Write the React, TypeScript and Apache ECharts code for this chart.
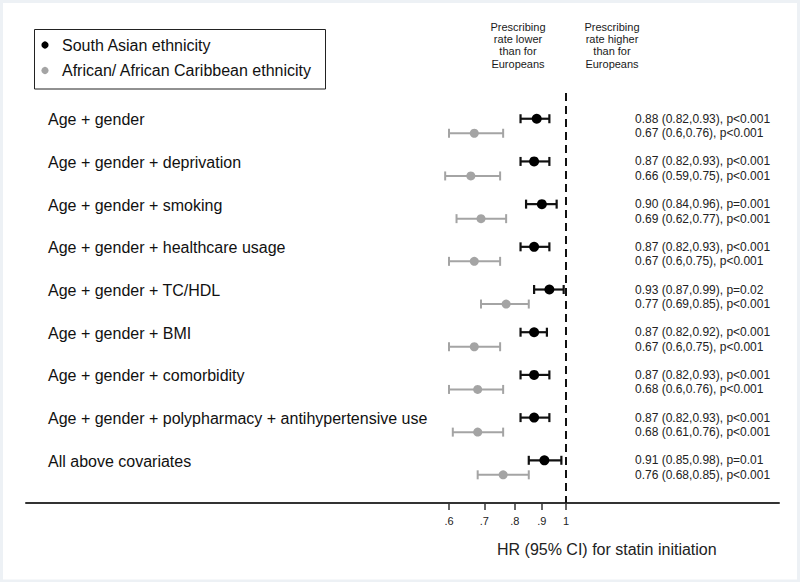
import React, { useEffect, useRef } from 'react';
import * as echarts from 'echarts';

const models = [
  'Age + gender',
  'Age + gender + deprivation',
  'Age + gender + smoking',
  'Age + gender + healthcare usage',
  'Age + gender + TC/HDL',
  'Age + gender + BMI',
  'Age + gender + comorbidity',
  'Age + gender + polypharmacy + antihypertensive use',
  'All above covariates',
];

const saHR = [0.88, 0.87, 0.9, 0.87, 0.93, 0.87, 0.87, 0.87, 0.91];
const saLo = [0.82, 0.82, 0.84, 0.82, 0.87, 0.82, 0.82, 0.82, 0.85];
const saHi = [0.93, 0.93, 0.96, 0.93, 0.99, 0.92, 0.93, 0.93, 0.98];
const saText = [
  '0.88 (0.82,0.93), p<0.001',
  '0.87 (0.82,0.93), p<0.001',
  '0.90 (0.84,0.96), p=0.001',
  '0.87 (0.82,0.93), p<0.001',
  '0.93 (0.87,0.99), p=0.02',
  '0.87 (0.82,0.92), p<0.001',
  '0.87 (0.82,0.93), p<0.001',
  '0.87 (0.82,0.93), p<0.001',
  '0.91 (0.85,0.98), p=0.01',
];

const afHR = [0.67, 0.66, 0.69, 0.67, 0.77, 0.67, 0.68, 0.68, 0.76];
const afLo = [0.6, 0.59, 0.62, 0.6, 0.69, 0.6, 0.6, 0.61, 0.68];
const afHi = [0.76, 0.75, 0.77, 0.75, 0.85, 0.75, 0.76, 0.76, 0.85];
const afText = [
  '0.67 (0.6,0.76), p<0.001',
  '0.66 (0.59,0.75), p<0.001',
  '0.69 (0.62,0.77), p<0.001',
  '0.67 (0.6,0.75), p<0.001',
  '0.77 (0.69,0.85), p<0.001',
  '0.67 (0.6,0.75), p<0.001',
  '0.68 (0.6,0.76), p<0.001',
  '0.68 (0.61,0.76), p<0.001',
  '0.76 (0.68,0.85), p<0.001',
];

const seriesNames = ['South Asian ethnicity', 'African/ African Caribbean ethnicity'];
const tickValues = [0.6, 0.7, 0.8, 0.9, 1];
const tickLabels = ['.6', '.7', '.8', '.9', '1'];
const headerLower = ['Prescribing', 'rate lower', 'than for', 'Europeans'];
const headerHigher = ['Prescribing', 'rate higher', 'than for', 'Europeans'];
const axisTitle = 'HR (95% CI) for statin initiation';

const FONT = '"Liberation Sans", Arial, Helvetica, sans-serif';
const BLACK = '#000000';
const GREY = '#a4a4a4';
const GREY_OFFSET = 0.34;

export default function App() {
  const ref = useRef<HTMLDivElement>(null);

  useEffect(() => {
    if (!ref.current) return;
    const chart = echarts.init(ref.current, null, { renderer: 'svg' });

    const saBars = models.map((_, i) => [saLo[i], saHi[i], i]);
    const afBars = models.map((_, i) => [afLo[i], afHi[i], i + GREY_OFFSET]);
    const saPts = models.map((_, i) => [saHR[i], i]);
    const afPts = models.map((_, i) => [afHR[i], i + GREY_OFFSET]);

    const makeBar = (color: string, width: number) => (params: any, api: any) => {
      const y = api.value(2);
      const a = api.coord([api.value(0), y]);
      const b = api.coord([api.value(1), y]);
      const h = 4.5;
      const st = { stroke: color, lineWidth: width };
      return {
        type: 'group',
        children: [
          { type: 'line', shape: { x1: a[0], y1: a[1], x2: b[0], y2: b[1] }, style: st },
          { type: 'line', shape: { x1: a[0], y1: a[1] - h, x2: a[0], y2: a[1] + h }, style: st },
          { type: 'line', shape: { x1: b[0], y1: b[1] - h, x2: b[0], y2: b[1] + h }, style: st },
        ],
      };
    };

    const option: any = {
      animation: false,
      backgroundColor: '#ffffff',
      textStyle: { fontFamily: FONT },
      grid: {
        left: 26,
        right: 21,
        top: 12,
        bottom: 79,
        containLabel: false,
        outerBoundsMode: 'none',
      },
      xAxis: {
        type: 'log',
        logBase: 10,
        min: 0.0946,
        max: 2.535,
        position: 'bottom',
        axisLine: { show: true, onZero: false, lineStyle: { color: '#333333', width: 2 } },
        axisTick: {
          show: true,
          customValues: tickValues,
          length: 7,
          lineStyle: { color: '#333333', width: 1.5 },
        },
        axisLabel: {
          show: true,
          customValues: tickValues,
          formatter: (v: number) => {
            const k = tickValues.findIndex((t) => Math.abs(t - v) < 1e-6);
            return k >= 0 ? tickLabels[k] : '';
          },
          fontSize: 11,
          color: '#222222',
          margin: 12,
          fontFamily: FONT,
        },
        splitLine: { show: false },
        minorTick: { show: false },
      },
      yAxis: {
        type: 'value',
        inverse: true,
        min: -2.5,
        max: 9,
        show: false,
        splitLine: { show: false },
      },
      series: [
        {
          type: 'custom',
          name: 'saBars',
          renderItem: makeBar('#111111', 2.2),
          data: saBars,
          encode: { x: [0, 1], y: 2 },
          z: 2,
          silent: true,
        },
        {
          type: 'custom',
          name: 'afBars',
          renderItem: makeBar(GREY, 2),
          data: afBars,
          encode: { x: [0, 1], y: 2 },
          z: 2,
          silent: true,
        },
        {
          type: 'scatter',
          name: seriesNames[0],
          data: saPts,
          symbol: 'circle',
          symbolSize: 10,
          itemStyle: { color: BLACK, opacity: 1 },
          z: 4,
          markLine: {
            silent: true,
            symbol: 'none',
            label: { show: false },
            lineStyle: { color: '#111111', width: 2, type: [8, 5] },
            data: [[{ coord: [1, -0.6] }, { coord: [1, 9] }]],
          },
        },
        {
          type: 'scatter',
          name: seriesNames[1],
          data: afPts,
          symbol: 'circle',
          symbolSize: 9,
          itemStyle: { color: GREY, opacity: 1 },
          z: 4,
        },
      ],
    };

    chart.setOption(option);

    const graphics: any[] = [];
    // outer light frame
    graphics.push({
      type: 'rect',
      shape: { x: 1.5, y: 1.5, width: 797, height: 579.5 },
      style: { fill: 'none', stroke: '#edf1f5', lineWidth: 3 },
      z: 100,
      silent: true,
    });
    // legend box
    graphics.push({
      type: 'rect',
      shape: { x: 34.5, y: 29.5, width: 291, height: 59.5 },
      style: { fill: '#ffffff', stroke: '#222222', lineWidth: 1 },
      z: 10,
    });
    const legendY = [45, 70.5];
    const legendColors = [BLACK, GREY];
    seriesNames.forEach((n, k) => {
      graphics.push({
        type: 'circle',
        shape: { cx: 45, cy: legendY[k], r: 3.6 },
        style: { fill: legendColors[k] },
        z: 11,
      });
      graphics.push({
        type: 'text',
        x: 62,
        y: legendY[k],
        style: {
          text: n,
          fontSize: 16,
          fontFamily: FONT,
          fill: '#111111',
          verticalAlign: 'middle',
          align: 'left',
        },
        z: 11,
      });
    });
    // header annotations, one text per line
    [
      { lines: headerLower, x: 518 },
      { lines: headerHigher, x: 612 },
    ].forEach((h) => {
      h.lines.forEach((ln, j) => {
        graphics.push({
          type: 'text',
          x: h.x,
          y: 26.5 + j * 12.4,
          style: {
            text: ln,
            fontSize: 11,
            fontFamily: FONT,
            fill: '#1a1a1a',
            align: 'center',
            verticalAlign: 'middle',
          },
          z: 11,
        });
      });
    });
    // row labels and estimate labels
    models.forEach((m, i) => {
      const pSa = chart.convertToPixel({ gridIndex: 0 }, [1, i]) as number[];
      const pAf = chart.convertToPixel({ gridIndex: 0 }, [1, i + GREY_OFFSET]) as number[];
      graphics.push({
        type: 'text',
        x: 48,
        y: pSa[1] + 1,
        style: {
          text: m,
          fontSize: 16,
          fontFamily: FONT,
          fill: '#111111',
          verticalAlign: 'middle',
          align: 'left',
        },
        z: 11,
      });
      graphics.push({
        type: 'text',
        x: 635,
        y: pSa[1],
        style: {
          text: saText[i],
          fontSize: 12,
          fontFamily: FONT,
          fill: '#222222',
          verticalAlign: 'middle',
          align: 'left',
        },
        z: 11,
      });
      graphics.push({
        type: 'text',
        x: 635,
        y: pAf[1],
        style: {
          text: afText[i],
          fontSize: 12,
          fontFamily: FONT,
          fill: '#222222',
          verticalAlign: 'middle',
          align: 'left',
        },
        z: 11,
      });
    });
    // axis title
    graphics.push({
      type: 'text',
      x: 497,
      y: 549,
      style: {
        text: axisTitle,
        fontSize: 16,
        fontFamily: FONT,
        fill: '#222222',
        verticalAlign: 'middle',
        align: 'left',
      },
      z: 11,
    });

    chart.setOption({ graphic: graphics });

    return () => {
      chart.dispose();
    };
  }, []);

  return (
    <div
      ref={ref}
      style={{ position: 'fixed', left: 0, top: 0, width: 800, height: 582 }}
    />
  );
}
